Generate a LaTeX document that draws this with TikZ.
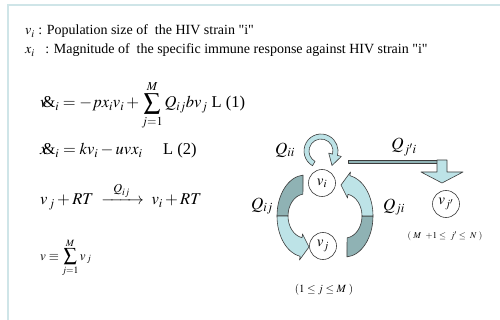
\documentclass[tikz,border=0pt]{standalone}
\usepackage{amsmath}
\usepackage{mathptmx}
\usepackage{fontspec}
\setmainfont{Liberation Serif}[Ligatures=TeXOff]
\usetikzlibrary{calc}
\definecolor{lcyan}{HTML}{BDE3E7}
\definecolor{dteal}{HTML}{8FB2B4}
\definecolor{framec}{HTML}{CFE5E8}
\definecolor{edgec}{HTML}{3C3C3C}
\begin{document}
\begin{tikzpicture}[x=1pt,y=-1pt,
  hdr/.style={anchor=base west, inner sep=0pt, font=\fontsize{14}{17}\selectfont},
  eqn/.style={anchor=base west, inner sep=0pt, font=\fontsize{16.5}{19}\selectfont},
  sumeq/.style={anchor=base west, inner sep=0pt, font=\fontsize{13}{15}\selectfont},
  qlab/.style={inner sep=0pt, font=\fontsize{17}{20}\selectfont},
  rng/.style={inner sep=0pt, font=\fontsize{9}{11}\selectfont},
  vnode/.style={circle, draw=edgec, line width=0.6pt, fill=white, minimum size=27pt, inner sep=0pt, font=\fontsize{15}{15}\selectfont},
  bandline/.style={draw=edgec, line width=0.6pt, line join=round}]
\useasboundingbox (0,0) rectangle (500,320);
\fill[white] (0,0) rectangle (500,320);
% frame
\draw[framec, line width=1.5pt] (8,320) -- (8,5) -- (500,5);
% header
\node[hdr] (l1) at (25,35) {$v_i$ : Population size of \ the HIV strain "i"};
\node[hdr] (l2) at (25,54) {$x_i$\ \ \ : Magnitude of \ the specific immune response against HIV strain "i"};
% equations
\node[eqn] (eq1) at (40,108) {$v\kern-0.3em\mbox{\&}_i = -p x_i v_i + \displaystyle\sum_{j=1}^{M} Q_{ij} b v_j$\ L (1)};
\node[eqn] (eq2) at (40,155) {$x\kern-0.3em\mbox{\&}_i = k v_i - u v x_i$\quad\ L (2)};
\node[eqn] (eq3) at (40,205) {$v_{\,j} + RT \ \xrightarrow{\;\;\;Q_{ij}\;\;\;}\ v_i + RT$};
\node[sumeq] (eq4) at (40,260) {$v \equiv \displaystyle\sum_{j=1}^{M} v_{\,j}$};
% loop arrow Q_ii
\coordinate (C) at (321,151);
\filldraw[fill=lcyan, bandline] ($(C)+(120:17)$) arc[start angle=120, end angle=375, radius=17]
  -- ($(C)+(375:21)$) -- (332,165.5) -- ($(C)+(375:8)$) -- ($(C)+(375:12)$)
  arc[start angle=375, end angle=120, radius=12] -- cycle;
% left band (Q_ij): dark upper half, light lower half with head at v_j
\filldraw[fill=dteal, bandline] (303.05,175.1) arc[start angle=266, end angle=180, x radius=28, y radius=41]
  -- (288,216) arc[start angle=180, end angle=263, x radius=17, y radius=22] -- cycle;
\filldraw[fill=lcyan, bandline] (277,216) arc[start angle=180, end angle=100, x radius=28, y radius=41]
  -- (299.5,260) -- (309,247) -- (302.5,234) -- (302.05,237.67)
  arc[start angle=100, end angle=180, x radius=17, y radius=22] -- cycle;
% right band (Q_ji): dark lower half, light upper half with head at v_i
\filldraw[fill=dteal, bandline] (346.95,256.9) arc[start angle=86, end angle=0, x radius=28, y radius=41]
  -- (362,216) arc[start angle=0, end angle=83, x radius=17, y radius=22] -- cycle;
\filldraw[fill=lcyan, bandline] (373,216) arc[start angle=360, end angle=280, x radius=28, y radius=41]
  -- (350.5,172) -- (341,185) -- (347.5,198) -- (347.95,194.33)
  arc[start angle=280, end angle=360, x radius=17, y radius=22] -- cycle;
% bent arrow Q_j'i
\filldraw[fill=dteal, bandline] (348,160) rectangle (437,163.5);
\filldraw[fill=lcyan, bandline] (437,160) -- (447,160) -- (447,172) -- (463,172) -- (442,183) -- (421,172) -- (437,172) -- cycle;
% nodes
\node[vnode] (vi) at (322,183) {$v_i$};
\node[vnode] (vj) at (323,246) {$v_j$};
\node[vnode] (vjp) at (446,204) {$v_{j'}$};
% labels
\node[qlab] (qii) at (285,150) {$Q_{ii}$};
\node[qlab] (qjpi) at (404,147) {$Q_{j'i}$};
\node[qlab] (qij) at (262,206) {$Q_{ij}$};
\node[qlab] (qji) at (394,207) {$Q_{ji}$};
\node[rng] (r1) at (445,236) {$(\ M\ \ {+}1 \le\ j' \le\ N\ )$};
\node[inner sep=0pt, font=\fontsize{11}{13}\selectfont] (r2) at (324,290) {$(1\le j \le M\ )$};
\end{tikzpicture}
\end{document}
